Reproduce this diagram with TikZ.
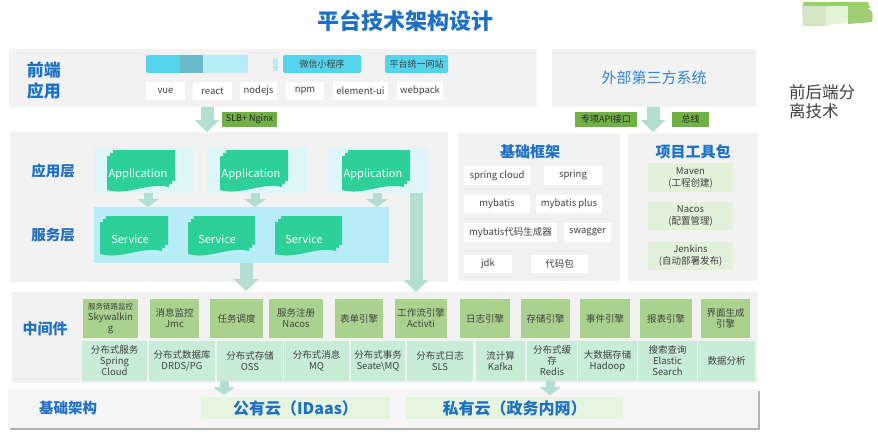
\documentclass[tikz,border=0pt]{standalone}
\usepackage{fontspec}
\setmainfont{Noto Sans CJK SC}
\usetikzlibrary{arrows.meta,calc}
\definecolor{panel}{RGB}{242,242,242}
\definecolor{tblue}{RGB}{30,112,196}
\definecolor{lblue}{RGB}{52,132,212}
\definecolor{cyanbox}{RGB}{84,212,236}
\definecolor{cyandark}{RGB}{104,186,202}
\definecolor{cyanpale}{RGB}{182,236,246}
\definecolor{appbg}{RGB}{222,246,250}
\definecolor{svcbg}{RGB}{184,236,246}
\definecolor{docg}{RGB}{44,208,152}
\definecolor{arrowc}{RGB}{180,222,210}
\definecolor{tagg}{RGB}{112,176,70}
\definecolor{mwtop}{RGB}{170,210,142}
\definecolor{mwbot}{RGB}{200,236,214}
\definecolor{toolg}{RGB}{226,242,218}
\definecolor{cloudg}{RGB}{230,245,224}
\definecolor{txt}{RGB}{64,64,64}
\definecolor{blobtop}{RGB}{150,210,100}
\definecolor{blobl}{RGB}{212,228,196}
\definecolor{blobm}{RGB}{228,243,212}
\definecolor{blobr}{RGB}{160,205,115}
\newcommand\fsz[2]{\fontsize{#1}{#2}\selectfont}
\newcommand\bx[7]{\node[#6,minimum width={(#4)-(#2)},minimum height={(#5)-(#3)}] (#1) at ({((#2)+(#4))/2},{((#3)+(#5))/2}) {#7};}
\newcommand\docshape[4]{\fill[docg] (#1,#2) -- (#3,#2) -- (#3,{#4-5}) .. controls ({#3-0.35*(#3-#1)},{#4-10}) and ({#1+0.35*(#3-#1)},{#4+4}) .. (#1,{#4-2}) -- cycle;}
\newcommand\docstack[4]{\docshape{#1+6}{#2}{#3}{#4-6}\docshape{#1+3}{#2+3}{#3-3}{#4-3}\docshape{#1}{#2+6}{#3-6}{#4}}
\begin{document}
\begin{tikzpicture}[x=1pt,y=-1pt,
  panelbox/.style={fill=panel,draw=none,inner sep=0pt,align=center},
  item/.style={fill=white,inner sep=0pt,text=txt,font=\fsz{9.5}{11},align=center},
  cyanitem/.style={fill=cyanbox,rounded corners=2pt,inner sep=0pt,text=txt,font=\fsz{9}{11},align=center},
  tag/.style={fill=tagg,inner sep=0pt,text=black!85,font=\fsz{9}{11},align=center},
  groupbox/.style={fill=appbg,inner sep=0pt},
  svcbox/.style={fill=svcbg,inner sep=0pt},
  doctext/.style={text=white,font=\fsz{11}{13},inner sep=0pt},
  toolbox/.style={fill=toolg,inner sep=0pt,text=txt,font=\fsz{9.5}{12},align=center},
  mwt/.style={fill=mwtop,inner sep=0pt,text=txt,font=\fsz{9.5}{11},align=center},
  mwb/.style={fill=mwbot,inner sep=0pt,text=txt,font=\fsz{9.5}{11},align=center},
  cloudbox/.style={fill=cloudg,inner sep=0pt,text=tblue,font=\fsz{16}{18}\bfseries,align=center},
  layerlabel/.style={text=tblue,font=\fsz{14.5}{17}\bfseries,align=center,inner sep=0pt},
  bigarrow/.style={draw=arrowc,line width=13pt,-{Triangle[width=25pt,length=12pt,line width=0pt]}},
  smallarrow/.style={draw=arrowc,line width=9pt,-{Triangle[width=22pt,length=8pt,line width=0pt]}}]
\useasboundingbox (0,0) rectangle (878,434);
\fill[white] (0,0) rectangle (878,434);

% title and side text
\node[text=tblue,font=\fsz{22}{26}\bfseries,inner sep=0pt] (title) at (405,21) {平台技术架构设计};
\node[text=txt,font=\fsz{16.5}{19},align=left,anchor=west,inner sep=0pt] (sep) at (789,102) {前后端分\\离技术};
\fill[blobtop] (803,2) -- (868,2) -- (870,8) -- (803,8) -- cycle;
\fill[blobl] (802,6) -- (826,6) -- (826,26) -- (803,26) -- cycle;
\fill[blobm] (826,6) -- (848,6) -- (848,23) -- (826,25) -- cycle;
\fill[blobr] (848,6) -- (866,8) .. controls (874,10) and (873,14) .. (872,22) -- (848,24) -- cycle;

% panels
\bx{fe}{9}{49}{537}{107}{panelbox}{}
\bx{ext}{552}{49}{756}{107}{panelbox,text=lblue,font=\fsz{15}{18}}{外部第三方系统}
\bx{mid}{10}{132}{448}{282}{panelbox}{}
\bx{fw}{458}{133}{620}{281}{panelbox}{}
\bx{tools}{628}{133}{758}{281}{panelbox}{}
\bx{mw}{12}{292}{758}{383}{panelbox}{}
\fill[black!30] (10,391) rectangle (760,430);
\bx{base}{8}{389}{758}{428}{panelbox,fill=black!4}{}

% front end
\node[text=tblue,font=\fsz{17}{21}\bfseries,align=center,inner sep=0pt] (felabel) at (44,81) {前端\\应用};
\fill[cyanbox,rounded corners=2pt] (146,55) rectangle (182,73);
\fill[cyandark] (180,55) rectangle (203,73);
\fill[cyanpale] (203,55) rectangle (248,73);
\fill[cyanpale] (273,58) rectangle (278,71);
\bx{wx}{283}{55}{361}{73}{cyanitem}{微信小程序}
\bx{web}{385}{55}{448}{73}{cyanitem}{平台统一网站}
\bx{vue}{146}{82}{185}{100}{item}{vue}
\bx{react}{193}{82}{232}{100}{item}{react}
\bx{node}{240}{82}{277}{100}{item}{nodejs}
\bx{npm}{286}{82}{324}{100}{item}{npm}
\bx{eui}{333}{82}{388}{100}{item}{element-ui}
\bx{wp}{397}{82}{443}{100}{item}{webpack}

% tags between rows
\bx{slb}{222}{112}{277}{127}{tag}{SLB+ Nginx}
\bx{api}{575}{112}{637}{127}{tag}{专项API接口}
\bx{bus}{672}{112}{709}{127}{tag}{总线}

% application and service layers
\node[layerlabel] (applabel) at (53,171) {应用层};
\node[layerlabel] (svclabel) at (53,235) {服务层};
\bx{ag1}{93}{147}{193}{193}{groupbox}{}
\bx{ag2}{207}{147}{307}{193}{groupbox}{}
\bx{ag3}{328}{147}{428}{193}{groupbox}{}
\bx{svc}{94}{207}{389}{263}{svcbox}{}
\docstack{107}{150}{175}{192}
\docstack{220}{150}{288}{192}
\docstack{342}{150}{410}{192}
\node[doctext] (app1) at (138,174) {Application};
\node[doctext] (app2) at (251,174) {Application};
\node[doctext] (app3) at (373,174) {Application};
\docstack{100}{216}{168}{256}
\docstack{188}{216}{255}{256}
\docstack{275}{216}{342}{256}
\node[doctext] (s1) at (130,239) {Service};
\node[doctext] (s2) at (217,239) {Service};
\node[doctext] (s3) at (304,239) {Service};

% framework panel
\node[text=tblue,font=\fsz{15}{18}\bfseries,inner sep=0pt] (fwtitle) at (530,152) {基础框架};
\bx{f1}{464}{166}{530}{185}{item}{spring cloud}
\bx{f2}{544}{166}{602}{185}{item}{spring}
\bx{f3}{464}{195}{530}{213}{item}{mybatis}
\bx{f4}{536}{195}{602}{213}{item}{mybatis plus}
\bx{f5}{464}{223}{557}{242}{item}{mybatis代码生成器}
\bx{f6}{564}{223}{611}{242}{item}{swagger}
\bx{f7}{464}{255}{512}{273}{item}{jdk}
\bx{f8}{531}{255}{588}{273}{item}{代码包}

% tools panel
\node[text=tblue,font=\fsz{15}{18}\bfseries,inner sep=0pt] (tooltitle) at (693,152) {项目工具包};
\bx{t1}{648}{163}{733}{192}{toolbox}{Maven\\(工程创建)}
\bx{t2}{648}{202}{733}{230}{toolbox}{Nacos\\(配置管理)}
\bx{t3}{648}{242}{733}{270}{toolbox}{Jenkins\\(自动部署发布)}

% middleware
\node[layerlabel,font=\fsz{15}{18}\bfseries] (mwlabel) at (45,329) {中间件};
\bx{mt1}{83}{299}{138}{338}{mwt}{{\fsz{7.5}{9}服务链路监控}\\Skywalkin\\g}
\bx{mt2}{150}{299}{199}{338}{mwt}{消息监控\\Jmc}
\bx{mt3}{210}{299}{263}{338}{mwt}{任务调度}
\bx{mt4}{269}{299}{323}{338}{mwt}{服务注册\\Nacos}
\bx{mt5}{335}{299}{383}{338}{mwt}{表单引擎}
\bx{mt6}{395}{299}{447}{338}{mwt}{工作流引擎\\Activti}
\bx{mt7}{460}{299}{510}{338}{mwt}{日志引擎}
\bx{mt8}{521}{299}{570}{338}{mwt}{存储引擎}
\bx{mt9}{580}{299}{630}{338}{mwt}{事件引擎}
\bx{mt10}{640}{299}{692}{338}{mwt}{报表引擎}
\bx{mt11}{701}{299}{750}{338}{mwt}{界面生成\\引擎}
\bx{mb1}{82}{341}{147}{381}{mwb}{分布式服务\\Spring\\Cloud}
\bx{mb2}{149}{341}{215}{381}{mwb}{分布式数据库\\DRDS/PG}
\bx{mb3}{217}{341}{283}{381}{mwb}{分布式存储\\OSS}
\bx{mb4}{284}{341}{349}{381}{mwb}{分布式消息\\MQ}
\bx{mb5}{351}{341}{405}{381}{mwb}{分布式事务\\Seate\textbackslash MQ}
\bx{mb6}{407}{341}{473}{381}{mwb}{分布式日志\\SLS}
\bx{mb7}{476}{341}{525}{381}{mwb}{流计算\\Kafka}
\bx{mb8}{527}{341}{577}{381}{mwb}{分布式缓\\存\\Redis}
\bx{mb9}{578}{341}{637}{381}{mwb}{大数据存储\\Hadoop}
\bx{mb10}{638}{341}{697}{381}{mwb}{搜索查询\\Elastic\\Search}
\bx{mb11}{698}{341}{755}{381}{mwb}{数据分析}

% base
\node[layerlabel] (baselabel) at (68,408) {基础架构};
\bx{pub}{201}{397}{390}{419}{cloudbox}{公有云（IDaas）}
\bx{priv}{406}{397}{623}{419}{cloudbox}{私有云（政务内网）}

% arrows
\coordinate (feA) at (207,107); \coordinate (feB) at (207,132);
\coordinate (exA) at (653,107); \coordinate (exB) at (653,132);
\coordinate (g1A) at (148,193); \coordinate (g1B) at (148,207);
\coordinate (g2A) at (255,193); \coordinate (g2B) at (255,207);
\coordinate (g3A) at (377,193); \coordinate (g3B) at (377,207);
\coordinate (svA) at (246,263); \coordinate (svB) at (246,291);
\coordinate (tlA) at (416,193); \coordinate (tlB) at (416,292);
\coordinate (b1A) at (224,381); \coordinate (b1B) at (224,395);
\coordinate (b2A) at (550,381); \coordinate (b2B) at (550,395);
\draw[bigarrow] (feA) -- (feB);
\draw[bigarrow] (exA) -- (exB);
\draw[smallarrow] (g1A) -- (g1B);
\draw[smallarrow] (g2A) -- (g2B);
\draw[smallarrow] (g3A) -- (g3B);
\draw[bigarrow] (svA) -- (svB);
\draw[bigarrow] (tlA) -- (tlB);
\draw[smallarrow] (b1A) -- (b1B);
\draw[smallarrow] (b2A) -- (b2B);
\end{tikzpicture}
\end{document}
